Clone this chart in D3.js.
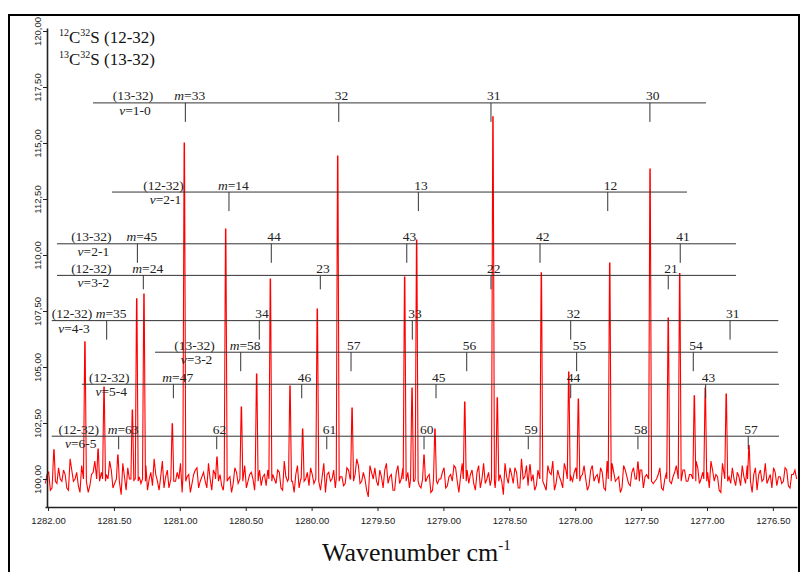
<!DOCTYPE html>
<html><head><meta charset="utf-8">
<script src="https://cdn.jsdelivr.net/npm/d3@7"></script>
<style>body{margin:0;background:#fff}svg{display:block}</style>
</head><body>
<svg id="c" width="804" height="572"></svg>
<script>
// ---------- data ----------
const xTicks = [1282.00,1281.50,1281.00,1280.50,1280.00,1279.50,1279.00,1278.50,1278.00,1277.50,1277.00,1276.50];
const yTicks = [100,102.5,105,107.5,110,112.5,115,117.5,120];

const noiseStart = 1282.02, noiseStep = 0.025;
const noise = [
99.8,100.3,99.6,100.1,100.5,99.9,100.2,99.5,100.4,100.0,
99.7,100.6,100.1,99.4,100.2,100.8,99.9,100.3,99.6,100.0,
100.4,99.8,100.2,99.3,100.1,100.5,99.7,100.0,100.6,99.8,
100.2,99.5,100.3,100.9,99.9,100.1,99.6,100.4,100.0,99.7,
100.3,100.7,99.8,100.1,99.4,100.2,100.5,99.9,100.3,99.6,
100.0,100.4,99.7,100.2,99.5,100.6,100.1,99.8,100.3,99.9,
100.5,99.6,100.2,100.0,99.3,100.4,100.1,99.7,100.6,100.2,
99.8,100.3,99.5,100.1,100.7,99.9,100.2,99.6,100.4,100.0,
99.7,100.2,100.8,99.9,100.1,99.4,100.3,100.0,99.6,100.5,
100.1,99.8,100.4,99.5,100.2,100.6,99.9,100.0,99.2,100.3,
100.5,99.7,100.1,100.4,99.8,100.2,99.5,100.6,100.0,99.7,
100.3,100.9,99.9,100.2,99.6,100.4,100.1,99.4,100.3,99.8,
100.0,100.5,99.7,100.2,100.6,99.9,100.1,99.5,100.4,100.2,
99.8,100.3,99.6,100.7,100.0,99.7,100.4,99.9,100.2,99.3,
100.1,100.5,99.8,100.3,99.6,100.0,100.6,99.9,100.2,99.7,
100.4,100.0,99.5,100.3,100.8,99.8,100.1,99.6,100.4,100.2,
99.9,100.5,99.4,100.2,100.0,99.7,100.6,100.1,99.8,100.3,
99.5,100.2,100.7,99.9,100.1,99.6,100.4,99.8,100.3,100.0,
99.2,100.4,100.1,99.7,100.5,99.9,100.2,99.6,100.0,100.6,
99.8,100.3,99.5,100.1,100.4,99.9,100.2,99.7,100.5,100.0,
99.6,100.3,100.8,99.9,100.1,99.4,100.2,100.5,99.8,100.0,
100.3,99.7,100.1,100.6,99.9,100.2,99.5,100.4,100.0,99.8,
100.2,100.5,99.7,100.1,99.9,100.4,99.6,100.2,100.0
];
// samples between the ones above (half a step further)
const noiseMid = [
100.2,99.5,100.7,99.8,100.0,100.4,99.6,100.9,99.9,100.3,
99.4,100.1,100.5,99.7,100.3,99.9,100.6,99.5,100.2,100.8,
99.6,100.3,99.9,100.7,99.5,100.0,100.4,99.8,100.1,99.3,
100.6,100.0,99.7,100.2,99.5,100.8,100.1,99.6,100.5,99.9,
100.0,99.4,100.6,100.2,99.8,100.4,99.6,100.1,99.9,100.7,
99.5,100.2,100.9,99.7,100.3,100.0,99.4,100.5,99.8,100.1,
100.6,99.9,100.3,99.5,100.8,99.7,100.2,100.4,99.6,100.0,
100.4,99.6,100.8,99.9,100.2,99.4,100.6,100.0,99.7,100.3,
100.5,99.8,100.1,99.5,100.7,100.2,99.9,100.4,99.3,100.1,
99.7,100.5,100.0,99.6,100.9,99.8,100.3,99.5,100.6,100.0,
99.9,100.4,99.6,100.7,100.1,99.5,100.3,99.8,100.5,100.2,
99.6,100.1,100.6,99.7,100.4,99.9,100.2,99.5,100.8,100.0,
100.3,99.6,100.1,99.9,100.5,99.4,100.7,100.2,99.8,100.4,
99.5,100.6,100.0,99.8,100.3,100.5,99.6,100.1,99.9,100.7,
99.8,100.2,100.5,99.6,100.9,100.1,99.7,100.3,99.5,100.4,
100.0,99.7,100.6,100.2,99.5,100.4,99.9,100.7,99.6,100.1,
100.3,99.8,100.1,100.6,99.5,100.4,99.9,100.2,100.5,99.6,
100.8,99.7,100.3,100.0,99.4,100.6,100.1,99.7,100.5,99.9,
100.4,99.6,100.2,100.7,99.8,100.0,100.5,99.5,100.3,99.9,
100.1,100.6,99.7,100.4,99.9,100.2,99.5,100.8,99.8,100.3,
100.0,99.6,100.4,100.2,99.5,100.7,99.9,100.1,100.5,99.7,
100.1,100.6,99.8,100.3,99.4,100.5,100.2,99.9,100.7,100.0,
99.6,100.3,100.1,99.8,100.5,99.7,100.2,100.4
];

const peakPos = [1281.955,1281.720,1281.620,1281.575,1281.470,1281.360,1281.327,1281.272,1281.057,1280.966,
  1280.718,1280.652,1280.533,1280.417,1280.313,1280.164,1280.068,1279.957,1279.802,1279.693,
  1279.294,1279.238,1279.203,1279.147,1279.064,1278.838,1278.624,1278.591,1278.343,1278.257,
  1278.049,1277.976,1277.738,1277.524,1277.432,1277.294,1277.207,1277.096,1277.013,1276.854,1276.681];
const peakHeight = [101.3,106.13,101.34,104.11,101.07,103.08,108.05,108.26,102.46,115.0,
  100.98,111.16,103.21,104.69,108.93,104.15,102.23,107.59,114.42,103.17,
  109.02,104.06,110.67,101.07,102.23,103.44,116.17,103.62,100.63,109.2,
  104.78,103.57,109.64,100.76,113.84,107.19,109.17,103.71,104.06,103.79,101.49];

const bandNames = ["(13-32)","(12-32)","(13-32)","(12-32)","(12-32)","(13-32)","(12-32)","(12-32)"];
const bandV = ["1-0","2-1","2-1","3-2","4-3","3-2","5-4","6-5"];
const bandLevel = [116.79,112.81,110.50,109.09,107.07,105.66,104.23,101.91];
const bandStart = [1281.659,1281.514,1281.932,1281.932,1281.972,1281.188,1281.744,1281.972];
const bandEnd = [1277.008,1277.152,1276.780,1276.780,1276.459,1276.462,1276.454,1276.454];
const bandLabelAt = [1281.355,1281.124,1281.671,1281.671,1281.818,1280.888,1281.535,1281.767];
const bandM = [[33,32,31,30],[14,13,12],[45,44,43,42,41],[24,23,22,21],[35,34,33,32,31],[58,57,56,55,54],[47,46,45,44,43],[63,62,61,60,59,58,57]];
const bandLinePos = [
  [1280.958,1279.794,1278.639,1277.433],
  [1280.627,1279.190,1277.753],
  [1281.322,1280.306,1279.278,1278.267,1277.203],
  [1281.277,1279.934,1278.639,1277.294],
  [1281.555,1280.397,1279.236,1278.034,1276.825],
  [1280.538,1279.701,1278.823,1277.989,1277.104],
  [1281.049,1280.075,1279.056,1278.034,1277.010],
  [1281.464,1280.720,1279.885,1279.147,1278.356,1277.524,1276.687]
];
const legendIso = [["12","32","(12-32)"],["13","32","(13-32)"]];

// ---------- styles ----------
const tickLen = [19,19,19,14,19,19,14,13];
const serif = "'Liberation Serif','Times New Roman',serif";
const sans = "'Liberation Sans',Arial,sans-serif";

const svg = d3.select("#c");
const x = d3.scaleLinear().domain([1282.023,1276.317]).range([45,797]);
const y = d3.scaleLinear().domain([98.75,120.134]).range([507,28]);

// frame
svg.append("rect").attr("x",9).attr("y",15).attr("width",790).attr("height",600)
  .attr("fill","none").attr("stroke","#000").attr("stroke-width",2);

// spectrum
const pts = [];
const addNoise = (arr, off) => arr.forEach((v,i)=>{
  const w = noiseStart - (i+off)*noiseStep;
  if (peakPos.every(p=>Math.abs(p-w) > 0.013)) pts.push([w,v]);
});
addNoise(noise, 0);
addNoise(noiseMid, 0.5);
peakPos.forEach((p,i)=>{
  pts.push([p+0.011,100.0],[p+0.0015,peakHeight[i]],[p-0.0015,peakHeight[i]],[p-0.011,99.9]);
});
pts.sort((a,b)=>b[0]-a[0]);
svg.append("path").datum(pts)
  .attr("d", d3.line().x(d=>x(d[0])).y(d=>y(d[1])))
  .attr("fill","none").attr("stroke","#ff0000").attr("stroke-width",1.1)
  .attr("stroke-linejoin","miter");

// axes
const gx = svg.append("g").attr("transform","translate(0,507)")
  .call(d3.axisBottom(x).tickValues(xTicks).tickFormat(d3.format(".2f")).tickSize(4).tickSizeOuter(0).tickPadding(6));
gx.select(".domain").attr("stroke","#222").attr("stroke-width",1.6);
gx.selectAll(".tick line").attr("stroke","#222");
gx.selectAll("text").attr("font-family",sans).attr("font-size",9.5).attr("fill","#222");

const gy = svg.append("g").attr("transform","translate(47,0)")
  .call(d3.axisLeft(y).tickValues(yTicks).tickFormat(d=>d3.format(".2f")(d).replace(".",",")).tickSize(4).tickSizeOuter(0));
gy.select(".domain").attr("stroke","#222").attr("stroke-width",1.6);
gy.selectAll(".tick line").attr("stroke","#222");
gy.selectAll("text").attr("font-family",sans).attr("font-size",9.5).attr("fill","#222")
  .attr("x",0).attr("dy",null).attr("text-anchor","middle")
  .attr("transform","translate(-6,0) rotate(-90)");

// band annotations
bandNames.forEach((name,i)=>{
  const g = svg.append("g");
  const ly = y(bandLevel[i]);
  g.append("line").attr("x1",x(bandStart[i])).attr("x2",x(bandEnd[i]))
    .attr("y1",ly).attr("y2",ly).attr("stroke","#333").attr("stroke-width",1);
  g.append("text").attr("x",x(bandLabelAt[i])).attr("y",ly-2.5).attr("text-anchor","middle")
    .attr("font-family",serif).attr("font-size",13.5).attr("fill","#222").text(name);
  const vt = g.append("text").attr("x",x(bandLabelAt[i])+2).attr("y",ly+12).attr("text-anchor","middle")
    .attr("font-family",serif).attr("font-size",13.5).attr("fill","#222");
  vt.append("tspan").attr("font-style","italic").text("v");
  vt.append("tspan").text("=" + bandV[i]);
  bandLinePos[i].forEach((p,j)=>{
    const px = x(p);
    g.append("line").attr("x1",px).attr("x2",px).attr("y1",ly).attr("y2",ly+tickLen[i])
      .attr("stroke","#333").attr("stroke-width",1);
    const t = g.append("text").attr("y",ly-2.5)
      .attr("font-family",serif).attr("font-size",13.5).attr("fill","#222");
    if (j===0) {
      t.attr("x",px-11);
      t.append("tspan").attr("font-style","italic").text("m");
      t.append("tspan").text("=" + bandM[i][j]);
    } else {
      t.attr("x",px-4).text(bandM[i][j]);
    }
  });
});

// legend
legendIso.forEach((l,i)=>{
  const t = svg.append("text").attr("x",59).attr("y",43+i*22)
    .attr("font-family",serif).attr("font-size",17).attr("fill","#111");
  t.append("tspan").attr("font-size",10).attr("dy",-7).text(l[0]);
  t.append("tspan").attr("dy",7).text("C");
  t.append("tspan").attr("font-size",10).attr("dy",-7).text(l[1]);
  t.append("tspan").attr("dy",7).text("S " + l[2]);
});

// x title
const tt = svg.append("text").attr("x",322).attr("y",561)
  .attr("font-family",serif).attr("font-size",26).attr("fill","#111");
tt.append("tspan").text("Wavenumber cm");
tt.append("tspan").attr("font-size",15).attr("dy",-11).text("-1");
</script>
</body></html>
